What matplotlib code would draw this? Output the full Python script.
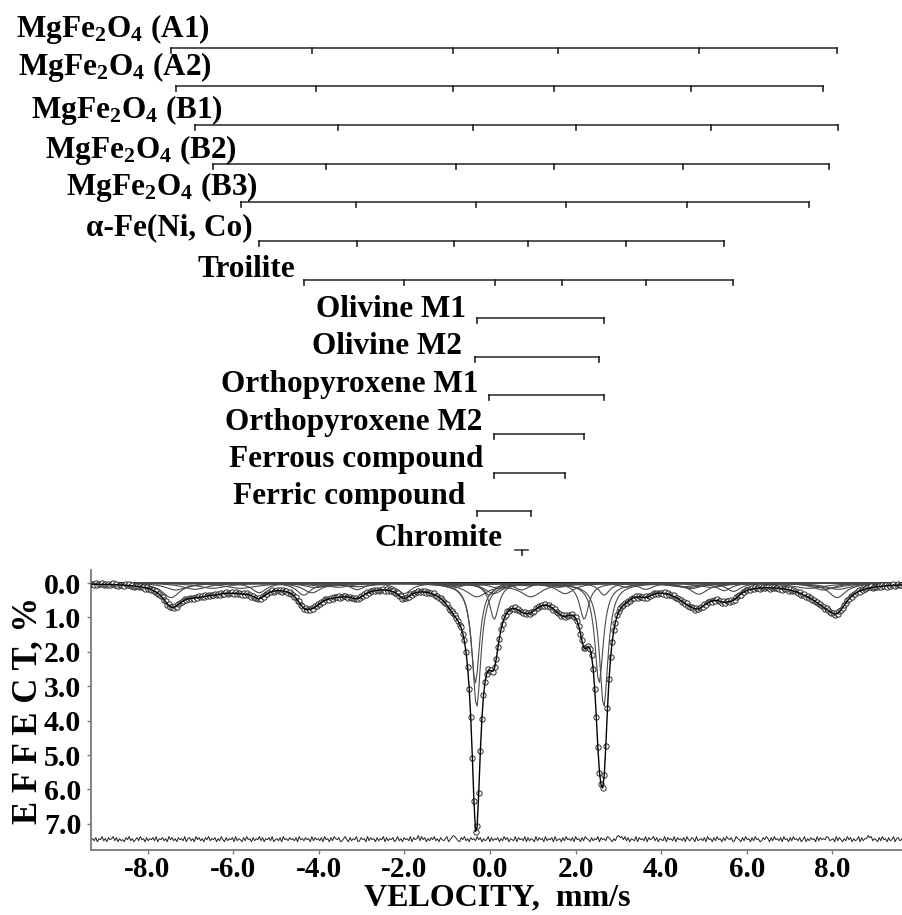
import numpy as np
import matplotlib

matplotlib.use("Agg")
import matplotlib.pyplot as plt

plt.rcParams["font.family"] = ["Liberation Serif", "DejaVu Serif"]
plt.rcParams["font.weight"] = "bold"
plt.rcParams["mathtext.fontset"] = "custom"
plt.rcParams["mathtext.rm"] = "Liberation Serif:bold"
plt.rcParams["mathtext.it"] = "Liberation Serif:bold"
plt.rcParams["mathtext.bf"] = "Liberation Serif:bold"

# subspectra: line positions (mm/s), depths (%) off the fit
sextet_names = [
    r"MgFe$_2$O$_4$ (A1)",
    r"MgFe$_2$O$_4$ (A2)",
    r"MgFe$_2$O$_4$ (B1)",
    r"MgFe$_2$O$_4$ (B2)",
    r"MgFe$_2$O$_4$ (B3)",
    "α-Fe(Ni, Co)",
    "Troilite",
]
sextet_lines = [
    [-7.45, -4.16, -0.86, 1.59, 4.88, 8.11],
    [-7.34, -4.07, -0.87, 1.50, 4.69, 7.79],
    [-6.89, -3.54, -0.39, 2.00, 5.17, 8.14],
    [-6.48, -3.83, -0.79, 1.50, 4.52, 7.93],
    [-5.82, -3.12, -0.33, 1.78, 4.60, 7.46],
    [-5.39, -3.10, -0.83, 0.90, 3.18, 5.47],
    [-4.35, -2.00, 0.12, 1.69, 3.64, 5.69],
]
sextet_depths = [
    [0.42, 0.28, 0.14, 0.12, 0.32, 0.42],
    [0.20, 0.13, 0.07, 0.06, 0.16, 0.20],
    [0.18, 0.12, 0.06, 0.05, 0.12, 0.18],
    [0.15, 0.10, 0.05, 0.04, 0.10, 0.15],
    [0.15, 0.10, 0.05, 0.04, 0.12, 0.15],
    [0.28, 0.19, 0.09, 0.08, 0.12, 0.22],
    [0.35, 0.30, 0.12, 0.10, 0.18, 0.24],
]
sextet_hwhm = [0.25, 0.30, 0.35, 0.40, 0.45, 0.20, 0.20]

doublet_names = [
    "Olivine M1",
    "Olivine M2",
    "Orthopyroxene M1",
    "Orthopyroxene M2",
    "Ferrous compound",
    "Ferric compound",
]
doublet_lines = [
    [-0.31, 2.66],
    [-0.34, 2.55],
    [-0.02, 2.67],
    [0.10, 2.20],
    [0.09, 1.76],
    [-0.31, 0.96],
]
doublet_depths = [
    [3.60, 3.60],
    [2.90, 2.90],
    [0.35, 0.35],
    [1.05, 1.05],
    [0.30, 0.30],
    [0.38, 0.38],
]
doublet_hwhm = [0.12, 0.12, 0.15, 0.13, 0.25, 0.30]

singlet_names = ["Chromite"]
singlet_lines = [[0.74]]
singlet_depths = [[0.20]]
singlet_hwhm = [0.20]

# residual (data - fit), one digit per channel, 4 = zero, step 0.012 %
residual_codes = (
    "4352634153624315263546241536425143625342516342536142536243516325"
    "3614253624153426351462534261534625143625341526342516435261435243"
    "5261435243615243526143625134265314625341652436152436253416253426"
    "4153624351624305142635241536245316420135624153624351426354162534"
    "2635142634516243516253461524361534261543625143526143625134625341"
    "6243512463510214152634516243516243152634516243516243526145236154"
    "3526143625143625134265134625143625143652413625143526143625143526"
    "4163524361524341254361524635142635416253302153462514362541632541"
)

v_min, v_max = -9.32, 9.65
y_top, y_bottom = -0.38, 7.76
residual_base = 7.46

names = sextet_names + doublet_names + singlet_names
lines = sextet_lines + doublet_lines + singlet_lines
depths = sextet_depths + doublet_depths + singlet_depths
hwhm = sextet_hwhm + doublet_hwhm + singlet_hwhm

residual = (np.array([int(c) for c in residual_codes]) - 4) * 0.012
velocity = np.linspace(v_min, v_max, residual.size)


def subspectrum(pos, dep, hw):
    out = np.zeros_like(velocity)
    for p, d in zip(pos, dep):
        out += d / (1.0 + ((velocity - p) / hw) ** 2)
    return out


components = [subspectrum(p, d, w) for p, d, w in zip(lines, depths, hwhm)]
fit = np.sum(components, axis=0)
data = fit + residual

W, H = 903, 915
fig = plt.figure(figsize=(W / 100, H / 100), dpi=100)
left, right = 91 / W, 1.0
ax = fig.add_axes([left, 1 - 850 / H, right - left, (850 - 570) / H])

ax.axhline(0, color="black", lw=1.4, zorder=1)
for comp in components:
    ax.plot(velocity, comp, color="#4a4a4a", lw=0.8, zorder=2)
ax.plot(velocity, data, "o", ms=3.8, mfc="white", mec="#2a2a2a", mew=0.7, zorder=3)
ax.plot(velocity, fit, color="black", lw=1.0, zorder=4)
ax.plot(velocity, residual_base + 2.5 * residual, color="#222222", lw=0.7)

ax.set_xlim(v_min, v_max)
ax.set_ylim(y_bottom, y_top)
ax.set_xticks(np.arange(-8, 9, 2))
ax.set_yticks(np.arange(0, 8, 1))
ax.set_xticklabels([f"{t:.1f}" for t in np.arange(-8, 9, 2)])
ax.set_yticklabels([f"{t:.1f}" for t in np.arange(0, 8, 1)])
ax.tick_params(labelsize=21.5, length=3, width=1, color="#7a7a7a", pad=4)
ax.tick_params(axis="x", labelsize=21, pad=1)
for s in ("top", "right"):
    ax.spines[s].set_visible(False)
for s in ("left", "bottom"):
    ax.spines[s].set_color("#7a7a7a")
    ax.spines[s].set_linewidth(1.3)
ax.set_xlabel("VELOCITY,  mm/s", fontsize=23, fontweight="bold", va="center")
ax.xaxis.set_label_coords(0.5, (850 - 898) / 280)
ax.set_ylabel("E F F E C T, %", fontsize=25, fontweight="bold", labelpad=0)

# bar diagram of the subspectra, y in pixels of the figure
ax_top = fig.add_axes([left, 1 - 570 / H, right - left, 570 / H])
ax_top.set_xlim(v_min, v_max)
ax_top.set_ylim(570, 0)
ax_top.axis("off")

label_right = [210, 212, 223, 237, 258, 253, 295, 466, 462, 478, 482, 483, 465, 503]
label_base = [37, 75, 118, 158, 195, 235, 277, 317, 354, 392, 430, 467, 504, 546]
for i, (name, pos) in enumerate(zip(names, lines)):
    y = 47.7 + 38.64 * i
    if len(pos) == 1:
        ax_top.plot([pos[0] - 0.15, pos[0] + 0.15], [y, y], color="#444444", lw=1.2)
    else:
        ax_top.plot([min(pos), max(pos)], [y, y], color="#444444", lw=1.3)
    for p in pos:
        ax_top.plot([p, p], [y, y + 5], color="#222222", lw=1.2)
    fig.text(label_right[i] / W, 1 - label_base[i] / H, name, ha="right", va="baseline",
             fontsize=22.5, fontweight="bold")

fig.savefig("out.png", dpi=100)
